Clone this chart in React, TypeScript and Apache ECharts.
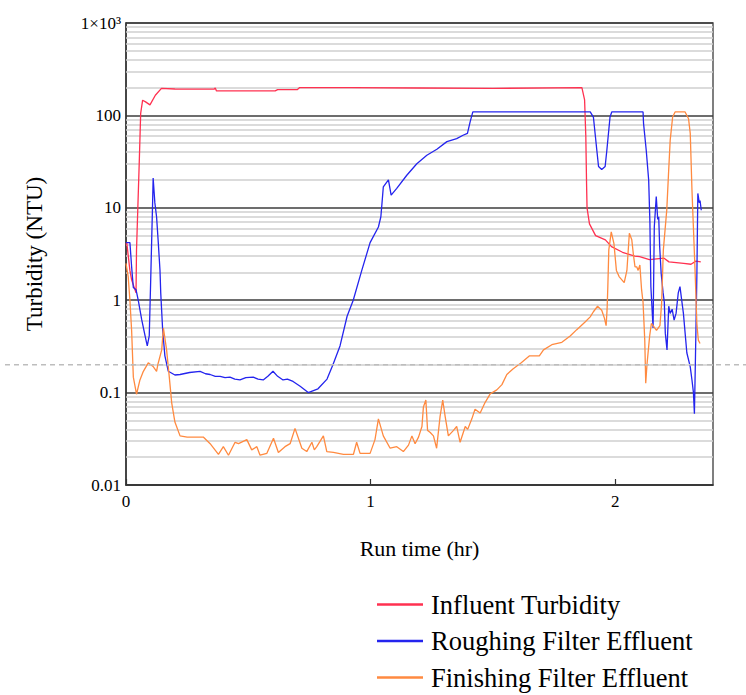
import React, { useEffect, useRef } from "react";
import * as echarts from "echarts";

const FONT = "Liberation Serif";

const seriesNames = ["Influent Turbidity", "Roughing Filter Effluent", "Finishing Filter Effluent"];
const seriesColors = ["#ff3150", "#2424ee", "#ff8a40"];

// [run time (hr), turbidity (NTU)]
const influentData: [number, number][] = [
  [0, 4.0], [0.003, 4.2], [0.016, 2.1], [0.023, 1.66], [0.041, 1.2], [0.043, 3.5], [0.054, 30], [0.06, 105],
  [0.068, 146], [0.08, 140], [0.098, 130], [0.12, 165], [0.145, 196], [0.2, 193], [0.36, 192], [0.365, 198],
  [0.37, 184], [0.61, 184], [0.62, 190], [0.7, 190], [0.71, 200], [0.92, 200], [1.2, 198], [1.5, 196],
  [1.864, 200], [1.875, 147], [1.88, 59], [1.883, 18.5], [1.885, 10], [1.895, 6.7], [1.92, 5.0], [1.96, 4.5],
  [1.985, 3.8], [2.03, 3.3], [2.08, 3.0], [2.1, 2.96], [2.14, 2.75], [2.2, 2.85], [2.22, 2.6], [2.28, 2.5],
  [2.31, 2.45], [2.33, 2.65], [2.35, 2.6],
];

const roughingData: [number, number][] = [
  [0, 4.2], [0.016, 4.2], [0.023, 2.3], [0.03, 1.37], [0.041, 1.3], [0.05, 1.0], [0.064, 0.62], [0.078, 0.41],
  [0.087, 0.32], [0.095, 0.41], [0.101, 1.66], [0.109, 12], [0.111, 21], [0.118, 11.3], [0.125, 8.0], [0.132, 4.2],
  [0.139, 2.1], [0.142, 1.2], [0.15, 0.47], [0.159, 0.25], [0.173, 0.17], [0.2, 0.155], [0.221, 0.157], [0.26, 0.165],
  [0.303, 0.17], [0.325, 0.16], [0.344, 0.157], [0.365, 0.15], [0.385, 0.15], [0.405, 0.145], [0.425, 0.147],
  [0.445, 0.14], [0.466, 0.137], [0.49, 0.145], [0.52, 0.147], [0.54, 0.14], [0.561, 0.137], [0.58, 0.15],
  [0.601, 0.17], [0.62, 0.15], [0.642, 0.137], [0.66, 0.14], [0.683, 0.132], [0.712, 0.117], [0.745, 0.1],
  [0.785, 0.11], [0.822, 0.14], [0.846, 0.2], [0.875, 0.32], [0.904, 0.67], [0.929, 1.0], [0.964, 2.1],
  [0.998, 4.2], [1.032, 6.2], [1.042, 8.0], [1.046, 10.7], [1.052, 16.8], [1.073, 20], [1.084, 13.7],
  [1.107, 16.2], [1.148, 22.5], [1.189, 30], [1.23, 37], [1.271, 43], [1.312, 52], [1.352, 56], [1.378, 61],
  [1.396, 64], [1.407, 85], [1.418, 109], [1.898, 109], [1.911, 96], [1.925, 42], [1.932, 28], [1.945, 26],
  [1.959, 28], [1.966, 42], [1.979, 96], [1.986, 109], [2.114, 109], [2.116, 82], [2.127, 42], [2.137, 20],
  [2.142, 7], [2.146, 1.4], [2.155, 0.5], [2.16, 6.2], [2.168, 13.2], [2.174, 7.5], [2.178, 8], [2.182, 3.8],
  [2.188, 1.96], [2.196, 1.2], [2.201, 0.95], [2.205, 0.44], [2.212, 0.29], [2.219, 0.86], [2.225, 0.72],
  [2.233, 0.8], [2.241, 0.61], [2.249, 0.72], [2.258, 1.2], [2.265, 1.4], [2.272, 1.0], [2.279, 0.72],
  [2.293, 0.27], [2.307, 0.19], [2.314, 0.137], [2.32, 0.1], [2.324, 0.059], [2.328, 0.22], [2.334, 1.8],
  [2.338, 14.3], [2.344, 11.3], [2.347, 12], [2.352, 9.4],
];

const finishingData: [number, number][] = [
  [0, 2.5], [0.009, 1.8], [0.016, 1.0], [0.023, 0.47], [0.03, 0.147], [0.043, 0.096], [0.057, 0.137],
  [0.071, 0.17], [0.091, 0.21], [0.112, 0.19], [0.125, 0.17], [0.13, 0.2], [0.146, 0.29], [0.153, 0.5],
  [0.166, 0.29], [0.177, 0.147], [0.187, 0.077], [0.2, 0.048], [0.221, 0.034], [0.25, 0.033], [0.316, 0.033],
  [0.344, 0.028], [0.378, 0.0215], [0.398, 0.026], [0.419, 0.021], [0.446, 0.029], [0.46, 0.028], [0.494, 0.031],
  [0.514, 0.024], [0.535, 0.026], [0.548, 0.021], [0.576, 0.022], [0.603, 0.032], [0.623, 0.0225], [0.65, 0.026],
  [0.671, 0.028], [0.691, 0.041], [0.719, 0.025], [0.739, 0.023], [0.76, 0.029], [0.77, 0.024], [0.78, 0.026],
  [0.807, 0.034], [0.821, 0.023], [0.848, 0.0225], [0.889, 0.0215], [0.93, 0.0215], [0.943, 0.029], [0.957, 0.022],
  [0.998, 0.022], [1.018, 0.031], [1.032, 0.052], [1.052, 0.034], [1.08, 0.025], [1.107, 0.026], [1.134, 0.023],
  [1.155, 0.027], [1.169, 0.034], [1.182, 0.028], [1.196, 0.033], [1.21, 0.043], [1.216, 0.07], [1.226, 0.083],
  [1.233, 0.039], [1.244, 0.037], [1.257, 0.034], [1.27, 0.025], [1.284, 0.055], [1.295, 0.083], [1.305, 0.055],
  [1.318, 0.034], [1.339, 0.039], [1.352, 0.043], [1.366, 0.029], [1.387, 0.043], [1.397, 0.04], [1.414, 0.052],
  [1.427, 0.066], [1.448, 0.06], [1.468, 0.078], [1.489, 0.097], [1.516, 0.107], [1.537, 0.122], [1.557, 0.157],
  [1.582, 0.18], [1.616, 0.21], [1.65, 0.25], [1.69, 0.25], [1.707, 0.29], [1.741, 0.33], [1.782, 0.35],
  [1.816, 0.41], [1.843, 0.48], [1.877, 0.58], [1.898, 0.66], [1.911, 0.75], [1.928, 0.86], [1.945, 0.78],
  [1.956, 0.64], [1.963, 0.53], [1.967, 0.8], [1.97, 1.4], [1.974, 3.5], [1.984, 5.5], [1.995, 4.1], [2.005, 2.1],
  [2.016, 1.8], [2.037, 1.55], [2.048, 2.1], [2.058, 5.3], [2.068, 4.5], [2.074, 3.2], [2.081, 2.3], [2.088, 2.3],
  [2.094, 2.1], [2.101, 2.4], [2.108, 1.3], [2.114, 0.95], [2.121, 0.37], [2.125, 0.126], [2.13, 0.2],
  [2.141, 0.41], [2.148, 0.56], [2.155, 0.53], [2.169, 0.47], [2.183, 0.53], [2.19, 0.93], [2.197, 3.5],
  [2.211, 9.5], [2.218, 23], [2.225, 54], [2.235, 96], [2.245, 109], [2.286, 109], [2.3, 92], [2.307, 64],
  [2.314, 15.6], [2.327, 1.97], [2.334, 0.56], [2.34, 0.37], [2.347, 0.34],
];

const yTickLabels: Record<string, string> = {
  "0.01": "0.01", "0.1": "0.1", "1": "1", "10": "10", "100": "100", "1000": "1×10³",
};
const xTickLabels = ["0", "1", "2"];
const minorMultipliers = [2, 3, 4, 5, 6, 7, 8, 9];
const minorDecades = [0.01, 0.1, 1, 10, 100];
const thresholdNTU = 0.2;

export default function App() {
  const ref = useRef<HTMLDivElement>(null);
  useEffect(() => {
    if (!ref.current) return;
    const chart = echarts.init(ref.current, null, { renderer: "svg" });
    const minorLines: any[] = [];
    minorDecades.forEach((d) => minorMultipliers.forEach((m) => minorLines.push({ yAxis: parseFloat((m * d).toPrecision(3)) })));
    const dataSets = [influentData, roughingData, finishingData];
    const option: any = {
      animation: false,
      backgroundColor: "#fff",
      textStyle: { fontFamily: FONT },
      grid: { left: 126, top: 23, width: 587, height: 462, show: true, borderColor: "#555", borderWidth: 1.5 },
      legend: seriesNames.map((n, i) => ({
        orient: "horizontal",
        left: 372,
        top: 586 + i * 36.5,
        itemWidth: 46,
        itemHeight: 2.5,
        icon: "rect",
        data: [n],
        textStyle: { fontFamily: FONT, fontSize: 26.5, color: "#000", padding: [0, 0, 0, 3] },
      })),
      xAxis: {
        type: "value",
        min: 0,
        max: 2.4,
        interval: 1,
        axisLine: { show: true, lineStyle: { color: "#333", width: 1.5 } },
        axisTick: { show: true, inside: true, length: 6, lineStyle: { color: "#333", width: 1.2 } },
        splitLine: { show: false },
        axisLabel: {
          showMaxLabel: false,
          fontFamily: FONT,
          fontSize: 17,
          color: "#000",
          margin: 8,
          formatter: (v: number) => (Number.isInteger(v) ? xTickLabels[v] ?? "" : ""),
        },
        name: "Run time (hr)",
        nameLocation: "middle",
        nameGap: 52,
        nameTextStyle: { fontFamily: FONT, fontSize: 22, color: "#000" },
      },
      yAxis: {
        type: "log",
        logBase: 10,
        min: 0.01,
        max: 1000,
        splitNumber: 5,
        axisLine: { show: true, lineStyle: { color: "#333", width: 1.5 } },
        axisTick: { show: false },
        splitLine: { show: true, lineStyle: { color: "#3c3c3c", width: 1.5 } },
        axisLabel: {
          fontFamily: FONT,
          fontSize: 17,
          color: "#000",
          margin: 5,
          formatter: (v: number) => yTickLabels[String(parseFloat(v.toPrecision(3)))] ?? "",
        },
        name: "Turbidity (NTU)",
        nameLocation: "middle",
        nameRotate: 90,
        nameGap: 80,
        nameTextStyle: { fontFamily: FONT, fontSize: 23, color: "#000" },
      },
      series: dataSets.map((d, i) => ({
        name: seriesNames[i],
        type: "line",
        data: d,
        symbol: "none",
        z: 3,
        lineStyle: { color: seriesColors[i], width: 1.3 },
        itemStyle: { color: seriesColors[i] },
        ...(i === 0
          ? {
              markLine: {
                silent: true,
                symbol: ["none", "none"],
                z: 1,
                label: { show: false },
                lineStyle: { color: "#cfcfcf", type: "solid", width: 1.5 },
                data: minorLines,
              },
            }
          : {}),
      })),
    };
    chart.setOption(option);
    const y = chart.convertToPixel({ yAxisIndex: 0 }, thresholdNTU) as number;
    chart.setOption({
      graphic: [
        {
          type: "line",
          silent: true,
          z: 10,
          shape: { x1: 5, y1: y, x2: 746, y2: y },
          style: { stroke: "#bdbdbd", lineWidth: 1.5, lineDash: [5, 4] },
        },
      ],
    });
    return () => chart.dispose();
  }, []);
  return <div ref={ref} style={{ position: "fixed", left: 0, top: 0, width: 746, height: 695 }} />;
}
